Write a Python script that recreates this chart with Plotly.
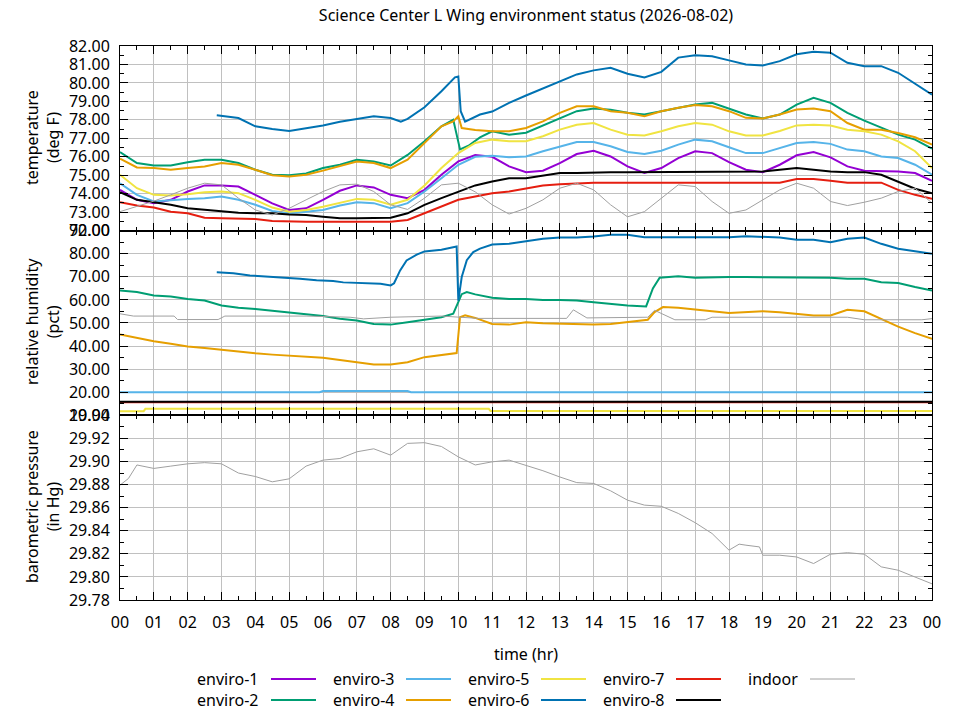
import plotly.graph_objects as go

# ---------------- data ----------------
HALF_HOURS = [0.0, 0.5, 1.0, 1.5, 2.0, 2.5, 3.0, 3.5, 4.0, 4.5, 5.0, 5.5, 6.0, 6.5,
              7.0, 7.5, 8.0, 8.5, 9.0, 9.5, 10.0, 10.5, 11.0, 11.5, 12.0, 12.5,
              13.0, 13.5, 14.0, 14.5, 15.0, 15.5, 16.0, 16.5, 17.0, 17.5, 18.0,
              18.5, 19.0, 19.5, 20.0, 20.5, 21.0, 21.5, 22.0, 22.5, 23.0, 23.5, 24.0]

SERIES = ["enviro-1", "enviro-2", "enviro-3", "enviro-4", "enviro-5",
          "enviro-6", "enviro-7", "enviro-8", "indoor"]
COLORS = ["#9400d3", "#009e73", "#56b4e9", "#e69f00", "#f0e442",
          "#0072b2", "#e51e10", "#000000", "#a0a0a0"]

# temperature (deg F)
TEMP_E1 = [74.21, 73.67, 73.48, 73.67, 74.12, 74.45, 74.45, 74.39, 73.94, 73.48, 73.12, 73.21,
           73.67, 74.16, 74.45, 74.34, 73.94, 73.76, 74.21, 75.03, 75.75, 76.10, 76.00, 75.48,
           75.17, 75.25, 75.66, 76.15, 76.33, 76.02, 75.48, 75.12, 75.39, 75.93, 76.30, 76.20,
           75.71, 75.30, 75.17, 75.57, 76.08, 76.26, 75.97, 75.48, 75.25, 75.21, 75.21, 75.12, 74.70]

TEMP_E2_T = [0.0, 0.5, 1.0, 1.5, 2.0, 2.5, 3.0, 3.5, 4.0, 4.5, 5.0, 5.5, 6.0, 6.5, 7.0, 7.5,
             8.0, 8.5, 9.0, 9.5, 9.85, 10.05, 10.3, 10.64, 11.0, 11.5, 12.0, 12.5, 13.0, 13.5,
             14.0, 14.5, 15.0, 15.5, 16.0, 16.5, 17.0, 17.5, 18.0, 18.5, 19.0, 19.5, 20.0,
             20.5, 21.0, 21.5, 22.0, 22.5, 23.0, 23.5, 24.0]
TEMP_E2 = [76.26, 75.66, 75.53, 75.53, 75.70, 75.84, 75.84, 75.66, 75.30, 75.03, 75.00, 75.10,
           75.39, 75.57, 75.84, 75.75, 75.53, 76.10, 76.84, 77.65, 78.00, 76.40, 76.60, 77.05,
           77.38, 77.20, 77.30, 77.70, 78.07, 78.47, 78.61, 78.55, 78.38, 78.29, 78.47, 78.66,
           78.83, 78.92, 78.61, 78.29, 78.07, 78.29, 78.83, 79.19, 78.92, 78.38, 77.96, 77.56,
           77.20, 76.93, 76.44]

TEMP_E3 = [74.57, 73.94, 73.58, 73.67, 73.72, 73.76, 73.85, 73.67, 73.40, 73.07, 72.94, 73.03,
           73.12, 73.36, 73.54, 73.49, 73.21, 73.49, 74.12, 74.84, 75.57, 76.00, 76.06, 75.97,
           76.02, 76.30, 76.57, 76.80, 76.80, 76.57, 76.26, 76.15, 76.33, 76.66, 76.93, 76.84,
           76.52, 76.20, 76.20, 76.48, 76.75, 76.80, 76.70, 76.39, 76.30, 76.02, 75.93, 75.57, 75.03]

TEMP_E4_T = [0.0, 0.5, 1.0, 1.5, 2.0, 2.5, 3.0, 3.5, 4.0, 4.5, 5.0, 5.5, 6.0, 6.5, 7.0, 7.5,
             8.0, 8.5, 9.0, 9.5, 9.85, 10.0, 10.1, 10.5, 11.0, 11.5, 12.0, 12.5, 13.0, 13.5,
             14.0, 14.5, 15.0, 15.5, 16.0, 16.5, 17.0, 17.5, 18.0, 18.5, 19.0, 19.5, 20.0,
             20.5, 21.0, 21.5, 22.0, 22.5, 23.0, 23.5, 24.0]
TEMP_E4 = [75.90, 75.42, 75.39, 75.30, 75.39, 75.48, 75.66, 75.57, 75.30, 75.00, 74.93, 75.03,
           75.25, 75.48, 75.75, 75.66, 75.39, 75.84, 76.75, 77.65, 77.92, 78.20, 77.56, 77.45,
           77.38, 77.38, 77.56, 77.92, 78.38, 78.74, 78.74, 78.47, 78.38, 78.20, 78.47, 78.66,
           78.80, 78.74, 78.47, 78.11, 78.07, 78.29, 78.56, 78.61, 78.47, 77.83, 77.47, 77.47,
           77.29, 77.06, 76.66]

TEMP_E5 = [75.03, 74.30, 73.94, 73.90, 73.97, 74.08, 74.12, 74.03, 73.67, 73.25, 73.03, 73.12,
           73.30, 73.49, 73.72, 73.67, 73.40, 73.67, 74.45, 75.39, 76.20, 76.75, 76.93, 76.84,
           76.84, 77.11, 77.47, 77.74, 77.83, 77.47, 77.20, 77.16, 77.38, 77.65, 77.83, 77.74,
           77.38, 77.16, 77.16, 77.40, 77.70, 77.74, 77.70, 77.47, 77.38, 77.20, 76.84, 76.30, 75.39]

TEMP_E6_T = [2.86, 3.5, 4.0, 4.5, 5.0, 5.5, 6.0, 6.5, 7.0, 7.5, 8.0, 8.3, 8.5, 9.0, 9.5, 9.9,
             10.0, 10.07, 10.2, 10.64, 11.0, 11.5, 12.0, 12.5, 13.0, 13.5, 14.0, 14.5, 15.0,
             15.5, 16.0, 16.5, 17.0, 17.5, 18.0, 18.5, 19.0, 19.5, 20.0, 20.5, 21.0, 21.5,
             22.0, 22.5, 23.0, 23.5, 24.0]
TEMP_E6 = [78.25, 78.10, 77.65, 77.50, 77.40, 77.55, 77.70, 77.90, 78.05, 78.20, 78.10, 77.90,
           78.05, 78.68, 79.55, 80.30, 80.35, 78.47, 77.90, 78.29, 78.45, 78.92, 79.32, 79.70,
           80.10, 80.46, 80.68, 80.82, 80.50, 80.30, 80.60, 81.37, 81.50, 81.45, 81.22, 81.00,
           80.95, 81.18, 81.55, 81.69, 81.64, 81.09, 80.91, 80.91, 80.55, 79.95, 79.37]

TEMP_E7 = [73.54, 73.36, 73.25, 73.03, 72.94, 72.70, 72.67, 72.63, 72.63, 72.52, 72.48, 72.48,
           72.48, 72.48, 72.48, 72.48, 72.48, 72.58, 72.94, 73.30, 73.67, 73.85, 74.03, 74.12,
           74.30, 74.45, 74.52, 74.57, 74.60, 74.60, 74.60, 74.60, 74.60, 74.60, 74.60, 74.60,
           74.60, 74.60, 74.60, 74.60, 74.80, 74.80, 74.70, 74.60, 74.60, 74.60, 74.21, 73.94, 73.72]

TEMP_E8 = [74.08, 73.67, 73.54, 73.40, 73.21, 73.12, 73.03, 72.97, 72.94, 72.94, 72.88, 72.85,
           72.76, 72.67, 72.67, 72.67, 72.70, 72.94, 73.40, 73.76, 74.12, 74.45, 74.66, 74.84,
           74.84, 74.99, 75.12, 75.12, 75.16, 75.16, 75.16, 75.16, 75.20, 75.20, 75.20, 75.20,
           75.20, 75.20, 75.20, 75.30, 75.39, 75.30, 75.20, 75.17, 75.17, 75.03, 74.66, 74.27, 74.03]

TEMP_IN = [73.03, 73.30, 73.60, 73.94, 74.30, 74.57, 74.48, 73.76, 73.12, 72.85, 73.21, 73.67,
           74.12, 74.48, 74.52, 74.12, 73.40, 73.15, 73.76, 74.48, 74.57, 74.10, 73.40, 72.90,
           73.21, 73.67, 74.30, 74.57, 74.21, 73.40, 72.75, 73.03, 73.76, 74.48, 74.39, 73.58,
           72.94, 73.12, 73.67, 74.21, 74.57, 74.30, 73.58, 73.36, 73.54, 73.76, 74.12, 74.30, 73.49]

# relative humidity (pct)
HUM_E2_T = [0.0, 0.5, 1.0, 1.5, 2.0, 2.5, 3.0, 3.5, 4.0, 4.5, 5.0, 5.5, 6.0, 6.5, 7.0, 7.5,
            8.0, 8.5, 9.0, 9.5, 9.85, 10.1, 10.25, 10.5, 11.0, 11.5, 12.0, 12.5, 13.0, 13.5,
            14.0, 14.5, 15.0, 15.55, 15.75, 15.95, 16.5, 17.0, 17.5, 18.0, 18.5, 19.0, 19.5,
            20.0, 20.5, 21.0, 21.5, 22.0, 22.5, 23.0, 23.5, 24.0]
HUM_E2 = [64.1, 63.4, 61.9, 61.5, 60.4, 59.7, 57.6, 56.6, 56.1, 55.4, 54.7, 53.7, 53.0, 51.8,
          51.1, 49.6, 49.3, 50.3, 51.4, 52.5, 54.0, 62.5, 63.4, 62.4, 60.9, 60.4, 60.4, 60.0,
          60.0, 59.7, 59.0, 58.3, 57.6, 57.2, 65.0, 69.6, 70.2, 69.6, 69.9, 69.9, 69.9, 69.9,
          69.9, 69.9, 69.6, 69.6, 69.2, 69.2, 67.7, 67.3, 65.6, 64.1]

HUM_E3_T = [0.0, 5.9, 6.0, 8.5, 8.6, 24.0]
HUM_E3 = [20.0, 20.0, 20.5, 20.5, 20.0, 20.0]

HUM_E4_T = [0.0, 0.5, 1.0, 1.5, 2.0, 2.5, 3.0, 3.5, 4.0, 4.5, 5.0, 5.5, 6.0, 6.5, 7.0, 7.5,
            8.0, 8.5, 9.0, 9.5, 9.95, 10.05, 10.2, 10.5, 11.0, 11.5, 12.0, 12.5, 13.0, 13.5,
            14.0, 14.5, 15.0, 15.6, 15.8, 16.05, 16.5, 17.0, 17.5, 18.0, 18.5, 19.0, 19.5,
            20.0, 20.5, 21.0, 21.5, 22.0, 22.5, 23.0, 23.5, 24.0]
HUM_E4 = [45.0, 43.5, 42.1, 41.0, 39.8, 39.2, 38.4, 37.4, 36.9, 36.3, 35.9, 35.2, 34.9, 34.0,
          33.0, 32.0, 32.0, 33.0, 35.2, 36.3, 37.0, 52.5, 53.3, 52.2, 49.6, 49.3, 50.3, 49.9,
          49.6, 49.3, 49.3, 49.6, 50.3, 51.4, 54.7, 56.9, 56.6, 55.7, 55.1, 54.3, 54.7, 55.1,
          54.7, 54.0, 53.3, 53.3, 55.7, 55.1, 51.8, 48.4, 45.6, 43.1]

HUM_E5_T = [0.0, 0.7, 0.75, 10.9, 10.95, 24.0]
HUM_E5 = [11.8, 11.8, 12.8, 12.8, 11.9, 11.9]

HUM_E6_T = [2.86, 3.35, 3.84, 4.33, 4.83, 5.32, 5.81, 6.3, 6.6, 7.29, 7.7, 8.0, 8.1, 8.28,
            8.47, 8.77, 9.0, 9.5, 9.95, 10.0, 10.1, 10.25, 10.44, 10.64, 11.0, 11.5, 12.0,
            12.5, 13.0, 13.5, 14.0, 14.5, 15.0, 15.5, 16.0, 16.5, 17.0, 17.5, 18.0, 18.5,
            19.0, 19.5, 20.0, 20.5, 21.0, 21.5, 22.0, 22.5, 23.0, 23.5, 24.0]
HUM_E6 = [72.0, 71.6, 70.6, 70.2, 69.6, 69.2, 68.5, 68.2, 67.6, 67.4, 67.0, 66.3, 67.2, 72.8,
          77.1, 79.6, 81.0, 81.7, 83.1, 59.7, 69.9, 77.2, 80.7, 82.2, 84.0, 84.3, 85.5, 86.5,
          87.0, 87.0, 87.5, 88.2, 88.2, 87.2, 87.2, 87.2, 87.2, 87.2, 87.2, 87.6, 87.2, 87.0,
          86.1, 86.1, 85.0, 86.5, 87.0, 84.3, 82.2, 81.1, 80.0]

HUM_E7_T = [0.0, 24.0]
HUM_E7 = [15.7, 15.7]

HUM_E8_T = [0.0, 24.0]
HUM_E8 = [15.9, 15.9]

HUM_IN_T = [0.0, 0.4, 1.6, 1.7, 2.9, 3.1, 5.5, 6.8, 7.2, 8.0, 9.5, 10.3, 10.6, 13.2, 13.4,
            13.8, 15.6, 15.8, 16.2, 16.4, 17.3, 17.5, 21.5, 22.0, 23.7, 24.0]
HUM_IN = [54.0, 53.0, 53.0, 51.5, 51.5, 53.0, 53.0, 52.5, 51.8, 52.5, 53.0, 52.5, 52.0, 52.0,
          55.7, 52.2, 52.5, 55.5, 53.0, 51.4, 51.4, 52.5, 52.5, 51.4, 51.4, 51.9]

# barometric pressure (in Hg), indoor sensor
PRES_T = [0.0, 0.25, 0.5, 1.0, 1.5, 2.0, 2.5, 3.0, 3.5, 4.0, 4.5, 5.0, 5.5, 6.0, 6.5, 7.0,
          7.5, 8.0, 8.5, 9.0, 9.5, 10.0, 10.5, 11.0, 11.5, 12.0, 12.5, 13.0, 13.5, 14.0, 14.5,
          15.0, 15.5, 16.0, 16.5, 17.0, 17.5, 18.0, 18.3, 18.5, 18.9, 19.0, 19.5, 20.0, 20.5,
          21.0, 21.5, 22.0, 22.5, 23.0, 23.5, 24.0]
PRES = [29.8795, 29.8853, 29.8970, 29.8940, 29.8960, 29.8980, 29.8990, 29.8980, 29.8900,
        29.8870, 29.8824, 29.8850, 29.8960, 29.9012, 29.9026, 29.9084, 29.9110, 29.9055,
        29.9157, 29.9163, 29.9130, 29.9040, 29.8970, 29.8997, 29.9012, 29.8965, 29.8920,
        29.8866, 29.8817, 29.8810, 29.8746, 29.8665, 29.8622, 29.8612, 29.8550, 29.8470,
        29.8376, 29.8232, 29.8284, 29.8275, 29.8260, 29.8188, 29.8188, 29.8173, 29.8116,
        29.8197, 29.8210, 29.8197, 29.8087, 29.8058, 29.8000, 29.7940]

X_TICKS = [0, 1, 2, 3, 4, 5, 6, 7, 8, 9, 10, 11, 12, 13, 14, 15, 16, 17, 18, 19, 20, 21, 22, 23, 24]
X_LABELS = ["00", "01", "02", "03", "04", "05", "06", "07", "08", "09", "10", "11", "12",
            "13", "14", "15", "16", "17", "18", "19", "20", "21", "22", "23", "00"]
TEMP_TICKS = [72, 73, 74, 75, 76, 77, 78, 79, 80, 81, 82]
HUM_TICKS = [10, 20, 30, 40, 50, 60, 70, 80, 90]
PRES_TICKS = [29.78, 29.80, 29.82, 29.84, 29.86, 29.88, 29.90, 29.92, 29.94]

TITLE = "Science Center L Wing environment status (2026-08-02)"

# ---------------- figure ----------------
# The page body has an 8px margin, so the figure is 944x704 and all reference
# pixel positions are shifted by 8px.
OFF = 8
FIG_W, FIG_H = 944, 704
FONT = "Noto Sans"
fig = go.Figure()

temp_data = [(HALF_HOURS, TEMP_E1), (TEMP_E2_T, TEMP_E2), (HALF_HOURS, TEMP_E3),
             (TEMP_E4_T, TEMP_E4), (HALF_HOURS, TEMP_E5), (TEMP_E6_T, TEMP_E6),
             (HALF_HOURS, TEMP_E7), (HALF_HOURS, TEMP_E8), (HALF_HOURS, TEMP_IN)]
hum_data = [None, (HUM_E2_T, HUM_E2), (HUM_E3_T, HUM_E3), (HUM_E4_T, HUM_E4),
            (HUM_E5_T, HUM_E5), (HUM_E6_T, HUM_E6), (HUM_E7_T, HUM_E7),
            (HUM_E8_T, HUM_E8), (HUM_IN_T, HUM_IN)]

for i, name in enumerate(SERIES):
    w = 1 if name == "indoor" else 2
    tx, ty = temp_data[i]
    fig.add_trace(go.Scatter(x=tx, y=ty, mode="lines", name=name, showlegend=False,
                             line=dict(color=COLORS[i], width=w), xaxis="x", yaxis="y"))
for i, name in enumerate(SERIES):
    if hum_data[i] is None:
        continue
    w = 1 if name == "indoor" else 2
    hx, hy = hum_data[i]
    fig.add_trace(go.Scatter(x=hx, y=hy, mode="lines", name=name, showlegend=False,
                             line=dict(color=COLORS[i], width=w), xaxis="x2", yaxis="y2"))
fig.add_trace(go.Scatter(x=PRES_T, y=PRES, mode="lines", name="indoor", showlegend=False,
                         line=dict(color=COLORS[8], width=1), xaxis="x3", yaxis="y3"))

GRID = "#c0c0c0"
common_x = dict(range=[0, 24], tickmode="array", tickvals=X_TICKS, ticktext=X_LABELS,
                ticks="inside", ticklen=8, tickcolor="black", showline=True,
                linecolor="black", linewidth=1, mirror="ticks", showgrid=True,
                gridcolor=GRID, gridwidth=1, zeroline=False, ticklabelstandoff=8,
                minor=dict(tickmode="linear", tick0=0, dtick=0.5, ticks="inside",
                           ticklen=4, tickcolor="black", showgrid=False),
                tickfont=dict(family=FONT, size=16, color="black"))

def yax(rng, ticks, minor_dt, domain):
    return dict(range=rng, domain=domain, tickmode="array", tickvals=ticks,
                ticktext=["%.2f" % v for v in ticks], ticks="inside", ticklen=8,
                tickcolor="black", showline=True, linecolor="black", linewidth=1,
                mirror="ticks", showgrid=True, gridcolor=GRID, gridwidth=1,
                zeroline=False, ticklabelstandoff=6,
                minor=dict(tickmode="linear", tick0=rng[0], dtick=minor_dt,
                           ticks="inside", ticklen=4, tickcolor="black", showgrid=False),
                tickfont=dict(family=FONT, size=16, color="black"))

layout = dict(
    width=FIG_W, height=FIG_H,
    margin=dict(l=120 - OFF, r=960 - 932 - OFF, t=46 - OFF, b=FIG_H - (600 - OFF)),
    paper_bgcolor="white", plot_bgcolor="white",
    font=dict(family=FONT, size=16, color="black"),
    title=dict(text=TITLE, x=0.5, xref="paper", xanchor="center",
               y=1 - (15 - OFF) / FIG_H, yref="container", yanchor="middle",
               font=dict(family=FONT, size=16, color="black")),
    xaxis=dict(common_x, anchor="y", showticklabels=False),
    xaxis2=dict(common_x, anchor="y2", matches="x", showticklabels=False),
    xaxis3=dict(common_x, anchor="y3", matches="x", showticklabels=True),
    yaxis=yax([72, 82], TEMP_TICKS, 0.5, [2 / 3, 1]),
    yaxis2=yax([10, 90], HUM_TICKS, 5, [1 / 3, 2 / 3]),
    yaxis3=yax([29.78, 29.94], PRES_TICKS, 0.01, [0, 1 / 3]),
    showlegend=False,
)
fig.update_layout(**layout)

PW, PH = 812.0, 554.0
def px(xp):
    return (xp - 120) / PW
def py(yp):
    return (600 - yp) / PH

annotations = []
# y-axis titles
for text, ycen in [("temperature<br>(deg F)", 138), ("relative humidity<br>(pct)", 322),
                   ("barometric pressure<br>(in Hg)", 507)]:
    annotations.append(dict(text=text, xref="paper", yref="paper", x=px(42), y=py(ycen),
                            xanchor="center", yanchor="middle", textangle=-90,
                            showarrow=False, font=dict(family=FONT, size=16)))
annotations.append(dict(text="time (hr)", xref="paper", yref="paper", x=0.5, y=py(654),
                        xanchor="center", yanchor="middle", showarrow=False,
                        font=dict(family=FONT, size=16)))

# legend (gnuplot style: label then line sample)
shapes = []
text_right = [260, 396, 531, 666, 800]
line_x0 = [271, 406, 541, 676, 810]
row_y = [679, 700]
slots = [(0, 0), (0, 1), (1, 0), (1, 1), (2, 0), (2, 1), (3, 0), (3, 1), (4, 0)]
for i, name in enumerate(SERIES):
    c, r = slots[i]
    annotations.append(dict(text=name, xref="paper", yref="paper", x=px(text_right[c]),
                            y=py(row_y[r]), xanchor="right", yanchor="middle",
                            showarrow=False, font=dict(family=FONT, size=16)))
    shapes.append(dict(type="line", xref="paper", yref="paper", x0=px(line_x0[c]),
                       x1=px(line_x0[c] + 45), y0=py(row_y[r]), y1=py(row_y[r]),
                       line=dict(color=COLORS[i], width=1 if name == "indoor" else 2)))

fig.update_layout(annotations=annotations, shapes=shapes)
fig.write_html("out.html")
